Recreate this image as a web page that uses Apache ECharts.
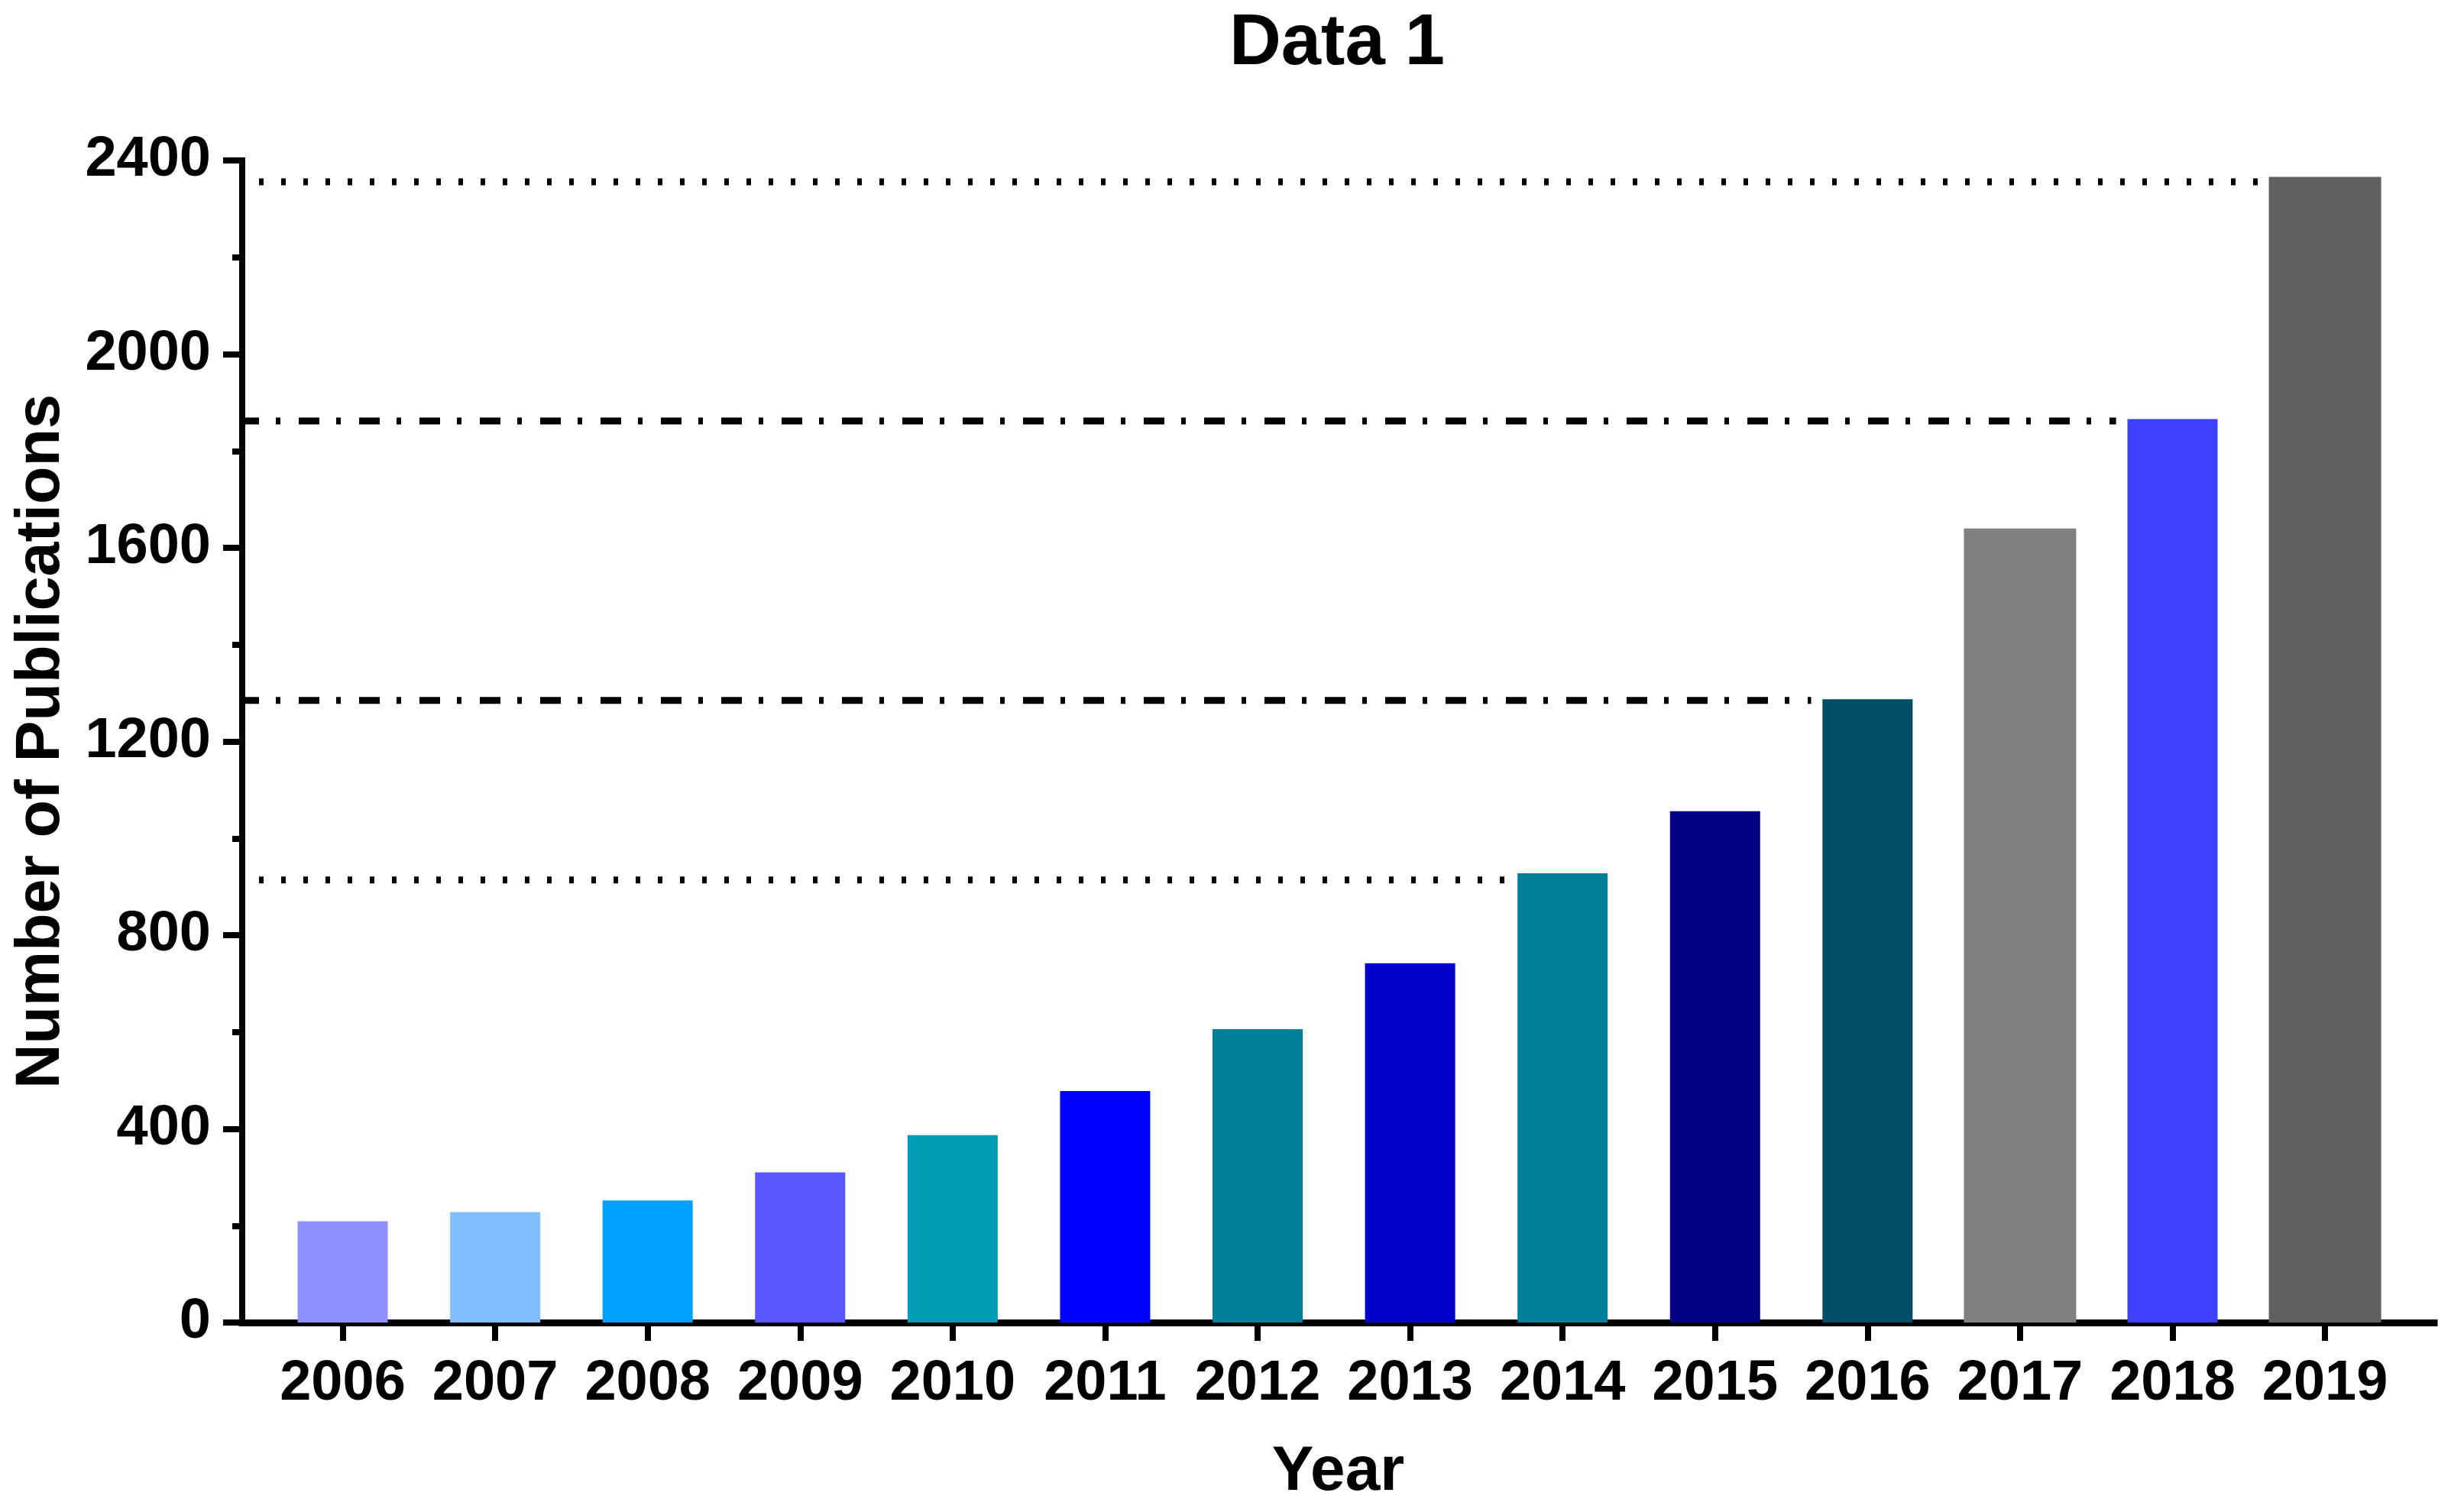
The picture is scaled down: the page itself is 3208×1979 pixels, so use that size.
<!DOCTYPE html>
<html>
<head>
<meta charset="utf-8">
<script src="https://cdn.jsdelivr.net/npm/echarts@6/dist/echarts.min.js"></script>
<style>
html,body{margin:0;padding:0;background:#fff;}
#chart{width:3208px;height:1979px;}
</style>
</head>
<body>
<div id="chart"></div>
<script>
// ---- data ----
const years = [2006, 2007, 2008, 2009, 2010, 2011, 2012, 2013, 2014, 2015, 2016, 2017, 2018, 2019];
const publications = [209, 228, 252, 310, 387, 478, 606, 742, 928, 1056, 1287, 1640, 1866, 2366];
const barColors = ['#8F8FFF', '#7FBFFF', '#00A0FF', '#5757FF', '#009BB5', '#0000FF', '#007F99',
                   '#0000CC', '#007F99', '#000080', '#004D66', '#808080', '#3F3FFF', '#606060'];
const wideYears = [2017, 2019];
const yTicks = [0, 400, 800, 1200, 1600, 2000, 2400];
// reference lines: level and the year bar they run up to
const refLevels = [914, 1285, 1862, 2356];
const refUntil = [2014, 2016, 2018, 2019];
const refStyles = ['dotted', 'dashdot', 'dashdot', 'dotted'];

// ---- build ----
const FONT = "'Liberation Sans', Arial, Helvetica, sans-serif";
const X_MIN = 2005.341, X_MAX = 2019.716;

const narrowData = years.map((y, i) => wideYears.includes(y) ? null :
  { value: [y, publications[i]], itemStyle: { color: barColors[i] } }).filter(d => d);
const wideData = years.map((y, i) => wideYears.includes(y) ?
  { value: [y, publications[i]], itemStyle: { color: barColors[i] } } : null).filter(d => d);

const dashStyles = {
  dotted: { type: [6, 23], dashOffset: 7 },
  dashdot: { type: [27, 22, 6, 24], dashOffset: 5 }
};

const refSeries = refLevels.map((v, i) => {
  const gap = wideYears.includes(refUntil[i]) ? 0.44 : 0.37;
  return {
    type: 'line',
    xAxisIndex: 0,
    data: [[X_MIN, v], [refUntil[i] - gap, v]],
    symbol: 'none',
    silent: true,
    z: 5,
    lineStyle: {
      color: '#000',
      width: 9,
      type: dashStyles[refStyles[i]].type,
      dashOffset: dashStyles[refStyles[i]].dashOffset,
      cap: 'butt'
    }
  };
});

const xAxisBase = {
  type: 'value',
  min: X_MIN,
  max: X_MAX,
  splitLine: { show: false }
};

const option = {
  backgroundColor: '#ffffff',
  animation: false,
  title: {
    text: 'Data 1',
    left: 1745,
    top: 6,
    textAlign: 'center',
    textStyle: { fontFamily: FONT, fontWeight: 'bold', fontSize: 94, lineHeight: 94, color: '#000' }
  },
  grid: { left: 317, right: 22, top: 210, bottom: 248, containLabel: false },
  xAxis: [
    Object.assign({}, xAxisBase, {
      name: 'Year',
      nameLocation: 'middle',
      nameGap: 155,
      nameTextStyle: { fontFamily: FONT, fontWeight: 'bold', fontSize: 82, lineHeight: 82, color: '#000' },
      axisLine: { show: true, onZero: false, lineStyle: { color: '#000', width: 9, cap: 'square' } },
      axisTick: { show: true, inside: false, length: 24, customValues: years, lineStyle: { color: '#000', width: 8 } },
      axisLabel: {
        show: true, margin: 44, customValues: years,
        formatter: v => String(v),
        fontFamily: FONT, fontWeight: 'bold', fontSize: 74, lineHeight: 74, color: '#000'
      }
    }),
    Object.assign({}, xAxisBase, {
      show: false
    })
  ],
  yAxis: {
    type: 'value',
    min: 0,
    max: 2400,
    interval: 400,
    name: 'Number of Publications',
    nameLocation: 'middle',
    nameGap: 222,
    nameTextStyle: { fontFamily: FONT, fontWeight: 'bold', fontSize: 81, lineHeight: 81, color: '#000' },
    splitLine: { show: false },
    axisLine: { show: true, lineStyle: { color: '#000', width: 8, cap: 'square' } },
    axisTick: { show: true, length: 25, lineStyle: { color: '#000', width: 8 } },
    minorTick: { show: true, splitNumber: 2, length: 13, lineStyle: { color: '#000', width: 8 } },
    axisLabel: {
      margin: 41,
      formatter: v => yTicks.includes(v) ? String(v) : '',
      fontFamily: FONT, fontWeight: 'bold', fontSize: 74, lineHeight: 74, color: '#000'
    }
  },
  series: [
    { type: 'bar', xAxisIndex: 0, barWidth: 118, data: narrowData, z: 2 },
    { type: 'bar', xAxisIndex: 1, barWidth: 147, data: wideData, z: 2 }
  ].concat(refSeries)
};

const chart = echarts.init(document.getElementById('chart'), null, { renderer: 'canvas' });
chart.setOption(option);
</script>
</body>
</html>
